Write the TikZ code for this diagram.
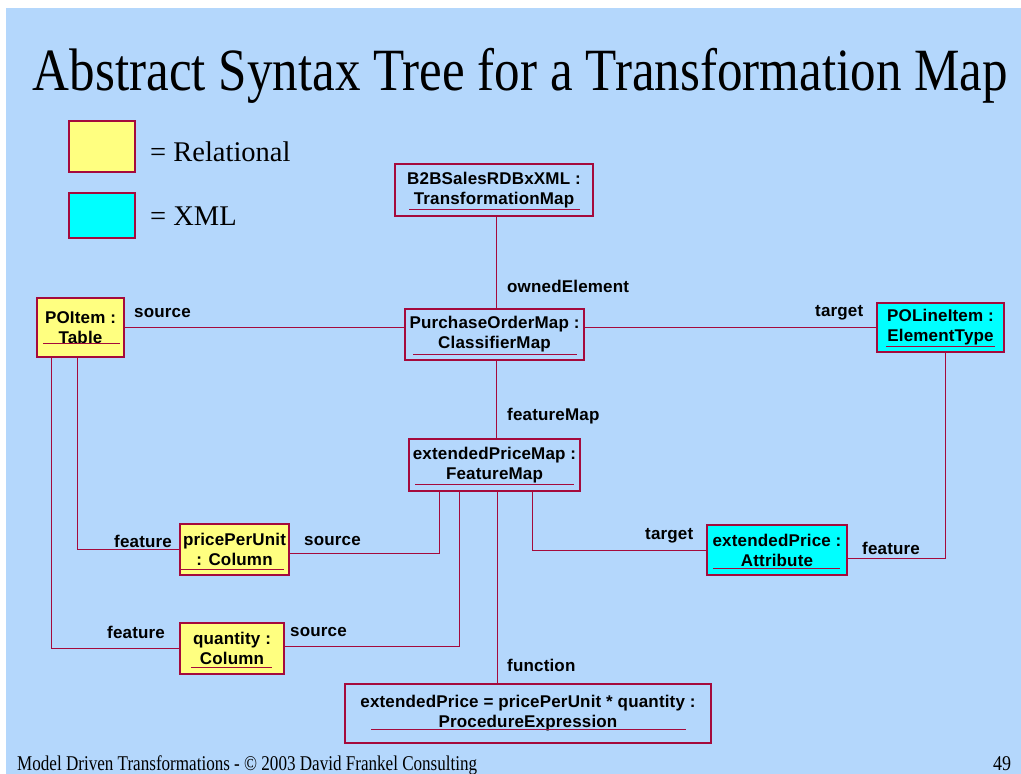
\documentclass[tikz,border=0pt]{standalone}
\usepackage{fontspec}
\usepackage{graphicx}
\setmainfont{Liberation Serif}
\newfontfamily\boxfont[LetterSpace=1]{Liberation Sans Bold}
\usetikzlibrary{calc}
\definecolor{bgblue}{RGB}{180,215,252}
\definecolor{umlred}{RGB}{165,10,60}
\definecolor{relyellow}{RGB}{255,255,128}
\definecolor{xmlcyan}{RGB}{0,255,255}
\begin{document}
\begin{tikzpicture}[x=1pt,y=-1pt,
  cls/.style={draw=umlred, line width=1.2pt, inner sep=0pt, align=center,
    font=\boxfont\fontsize{17}{20}\selectfont, text=black},
  rel/.style={cls, fill=relyellow},
  xml/.style={cls, fill=xmlcyan},
  plainbox/.style={cls},
  conn/.style={draw=umlred, line width=1pt},
  ul/.style={draw=umlred, line width=1pt},
  role/.style={anchor=west, inner sep=0pt, font=\boxfont\fontsize{17}{20}\selectfont},
  legendbox/.style={draw=umlred, line width=1.2pt, minimum width=66pt, inner sep=0pt},
  legendtext/.style={anchor=west, inner sep=0pt, font=\fontsize{28.5}{30}\selectfont}
]
\useasboundingbox (0,0) rectangle (1021,774);
\fill[white] (0,0) rectangle (1021,774);
\fill[bgblue] (6,8) rectangle (1021,774);

% title
\node[anchor=base, inner sep=0pt] (title) at (520.5,90)
  {\resizebox{975pt}{\height}{\fontsize{60}{60}\selectfont Abstract Syntax Tree for a Transformation Map}};

% legend
\node[legendbox, fill=relyellow, minimum height=51pt] (legrel) at (102,146.5) {};
\node[legendbox, fill=xmlcyan, minimum height=45pt] (legxml) at (102,215.5) {};
\node[legendtext] (legreltext) at (150,152) {= Relational};
\node[legendtext] (legxmltext) at (150,216) {= XML};

% classes
\node[plainbox, minimum width=198pt, minimum height=52pt] (b2b) at (494,190) {B2BSalesRDBxXML :\\ TransformationMap};
\node[plainbox, minimum width=179pt, minimum height=51pt] (pom) at (494.5,334.5) {PurchaseOrderMap :\\ClassifierMap};
\node[rel, minimum width=87pt, minimum height=59pt] (poitem) at (80.5,327.5) {POItem :\\Table};
\node[xml, minimum width=127pt, minimum height=49pt] (poline) at (940.5,327.5) {POLineItem :\\ElementType};
\node[plainbox, minimum width=171pt, minimum height=52pt] (epm) at (494.5,465) {extendedPriceMap :\\FeatureMap};
\node[rel, minimum width=109pt, minimum height=51pt] (ppu) at (234.5,549.5) {pricePerUnit\\: Column};
\node[rel, minimum width=104pt, minimum height=51pt] (qty) at (232,648.5) {quantity :\\Column};
\node[xml, minimum width=140pt, minimum height=50pt] (attr) at (777,550) {extendedPrice :\\Attribute};
\node[plainbox, minimum width=366pt, minimum height=59pt] (proc) at (528,713.5) {extendedPrice = pricePerUnit * quantity :\\ProcedureExpression};

% underlines
\draw[ul] (409,209) -- (580,209);
\draw[ul] (413,354) -- (577,354);
\draw[ul] (43,343) -- (120,343);
\draw[ul] (886,346) -- (995,346);
\draw[ul] (415,484) -- (574,484);
\draw[ul] (181,569) -- (284,569);
\draw[ul] (191,667) -- (272,667);
\draw[ul] (713,568) -- (840,568);
\draw[ul] (371,729) -- (686,729);

% connectors
\draw[conn] ($(b2b.south)+(2,0)$) -- ($(b2b.south |- pom.north)+(2,0)$);
\draw[conn] (poitem.east) -- (poitem.east -| pom.west);
\draw[conn] (pom.east |- poline.west) -- (poline.west);
\draw[conn] ($(pom.south)+(1.5,0)$) -- ($(pom.south |- epm.north)+(1.5,0)$);
\draw[conn] ($(poitem.south west)+(41,0)$) |- (ppu.west);
\draw[conn] ($(poitem.south west)+(15,0)$) |- (qty.west);
\draw[conn] ($(epm.south west)+(31,0)$) |- ($(ppu.east)+(0,4)$);
\draw[conn] ($(epm.south west)+(51,0)$) |- ($(qty.east)+(0,-2)$);
\draw[conn] ($(epm.south)+(2.5,0)$) -- ($(epm.south |- proc.north)+(2.5,0)$);
\draw[conn] ($(epm.south west)+(124,0)$) |- (attr.west);
\draw[conn] ($(poline.south)+(4.5,0)$) |- ($(attr.east)+(0,8)$);

% role labels
\node[role] (lowned) at (507,286) {ownedElement};
\node[role] (lsrc1) at (134,313) {source};
\node[role] (ltgt1) at (815,313) {target};
\node[role] (lfmap) at (507,416) {featureMap};
\node[role] (lfeat1) at (114,541) {feature};
\node[role] (lfeat2) at (107,632) {feature};
\node[role] (lsrc2) at (304,541) {source};
\node[role] (lsrc3) at (290,632) {source};
\node[role] (lfunc) at (507,665) {function};
\node[role] (ltgt2) at (645,536) {target};
\node[role] (lfeat3) at (862,548) {feature};

% footer
\node[anchor=base west, inner sep=0pt] (footer) at (17,770)
  {\resizebox{460pt}{\height}{\fontsize{21}{21}\selectfont Model Driven Transformations - © 2003 David Frankel Consulting}};
\node[anchor=base west, inner sep=0pt] (pageno) at (993,770)
  {\resizebox{18pt}{\height}{\fontsize{21}{21}\selectfont 49}};
\end{tikzpicture}
\end{document}
